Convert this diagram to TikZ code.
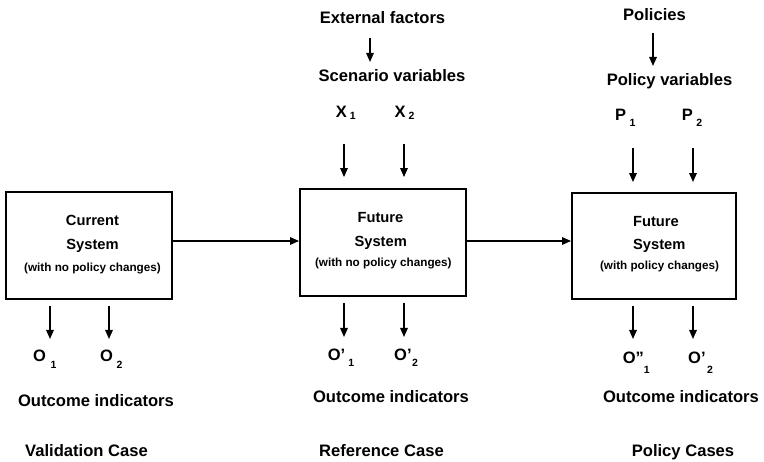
\documentclass[tikz,border=0pt]{standalone}
\usepackage{fontspec}
\setmainfont{Liberation Sans}
\usetikzlibrary{arrows.meta}
% variable label: letter, subscript, gap before subscript, drop of subscript
\newcommand\varlab[4]{#1\hspace{#3}\raisebox{-#4}{\fontsize{10.5}{12}\selectfont #2}}
\begin{document}
\begin{tikzpicture}[x=1pt,y=-1pt,
  sysbox/.style={draw,line width=1.9pt,minimum width=166pt,minimum height=107pt,inner sep=0pt},
  lab/.style={font=\fontsize{16.6}{20}\selectfont\bfseries,anchor=base,inner sep=0pt},
  head/.style={font=\fontsize{14.7}{18}\selectfont\bfseries,anchor=base,inner sep=0pt},
  note/.style={font=\fontsize{11.7}{14}\selectfont\bfseries,anchor=base,inner sep=0pt},
  var/.style={font=\fontsize{16.5}{20}\selectfont\bfseries,anchor=base west,inner sep=0pt},
  arr/.style={line width=1.5pt,-{Triangle[length=9pt,width=7.5pt]}}]
\useasboundingbox (0,0) rectangle (764,462);

% system boxes
\node[sysbox] (cur) at (89,245.5) {};
\node[sysbox] (fut) at (383,242.5) {};
\node[sysbox,minimum width=164pt,minimum height=106pt] (pcy) at (654,246) {};

% box captions
\node[head] (curA) at (92.5,226) {Current};
\node[head] (curB) at (92.5,250) {System};
\node[note] (curC) at (92.5,271.7) {(with no policy changes)};
\node[head] (futA) at (380.5,223) {Future};
\node[head] (futB) at (380.7,246.7) {System};
\node[note] (futC) at (383.3,267) {(with no policy changes)};
\node[head] (pcyA) at (656,226.7) {Future};
\node[head] (pcyB) at (659.3,250) {System};
\node[note] (pcyC) at (659.5,270) {(with policy changes)};

% flow between the systems
\draw[arr] ([yshift=4.5pt]cur.east) -- ([yshift=1.5pt]fut.west);
\draw[arr] ([yshift=1.5pt]fut.east) -- ([yshift=5pt]pcy.west);

% drivers above
\node[lab] (ext) at (382.5,24) {External factors};
\node[lab] (scen) at (392,82) {Scenario variables};
\node[lab] (pols) at (654.5,21) {Policies};
\node[lab] (polv) at (669.5,86) {Policy variables};
\coordinate (extA) at (370,38);
\coordinate (extB) at (370,62);
\coordinate (polA) at (653,33);
\coordinate (polB) at (653,66);
\draw[arr] (extA) -- (extB);
\draw[arr] (polA) -- (polB);

\node[var] (x1) at (335.7,118) {\varlab{X}{1}{3pt}{2pt}};
\node[var] (x2) at (394.3,118) {\varlab{X}{2}{3pt}{2pt}};
\node[var] (p1) at (615,120.7) {\varlab{P}{1}{3.5pt}{6pt}};
\node[var] (p2) at (681.7,120.7) {\varlab{P}{2}{3.5pt}{6pt}};

\coordinate (x1a) at (344,144);
\coordinate (x2a) at (404,144);
\coordinate (p1a) at (633,148);
\coordinate (p2a) at (693,148);
\draw[arr,shorten >=11pt] (x1a) -- (x1a |- fut.north);
\draw[arr,shorten >=11pt] (x2a) -- (x2a |- fut.north);
\draw[arr,shorten >=10pt] (p1a) -- (p1a |- pcy.north);
\draw[arr,shorten >=10pt] (p2a) -- (p2a |- pcy.north);

% outcomes below
\coordinate (o1a) at (50,339);
\coordinate (o2a) at (109,339);
\coordinate (r1a) at (344,337);
\coordinate (r2a) at (404,337);
\coordinate (q1a) at (633,339);
\coordinate (q2a) at (693,339);
\draw[arr,shorten <=6pt] (o1a |- cur.south) -- (o1a);
\draw[arr,shorten <=6pt] (o2a |- cur.south) -- (o2a);
\draw[arr,shorten <=6pt] (r1a |- fut.south) -- (r1a);
\draw[arr,shorten <=6pt] (r2a |- fut.south) -- (r2a);
\draw[arr,shorten <=6pt] (q1a |- pcy.south) -- (q1a);
\draw[arr,shorten <=6pt] (q2a |- pcy.south) -- (q2a);

\node[var] (o1) at (33,362) {\varlab{O}{1}{4.5pt}{7pt}};
\node[var] (o2) at (100,362) {\varlab{O}{2}{3.5pt}{7pt}};
\node[var] (r1) at (327.7,361) {\varlab{O’}{1}{3pt}{6pt}};
\node[var] (r2) at (394,361) {\varlab{O’}{2}{0.5pt}{6pt}};
\node[var] (q1) at (622.7,364) {\varlab{O”}{1}{0pt}{10pt}};
\node[var] (q2) at (688,364) {\varlab{O’}{2}{1.5pt}{10pt}};

\node[lab] (out1) at (96,407) {Outcome indicators};
\node[lab] (out2) at (391,403) {Outcome indicators};
\node[lab] (out3) at (681,403) {Outcome indicators};

\node[lab] (case1) at (86.5,457) {Validation Case};
\node[lab] (case2) at (381.5,457) {Reference Case};
\node[lab] (case3) at (683,457) {Policy Cases};
\end{tikzpicture}
\end{document}
